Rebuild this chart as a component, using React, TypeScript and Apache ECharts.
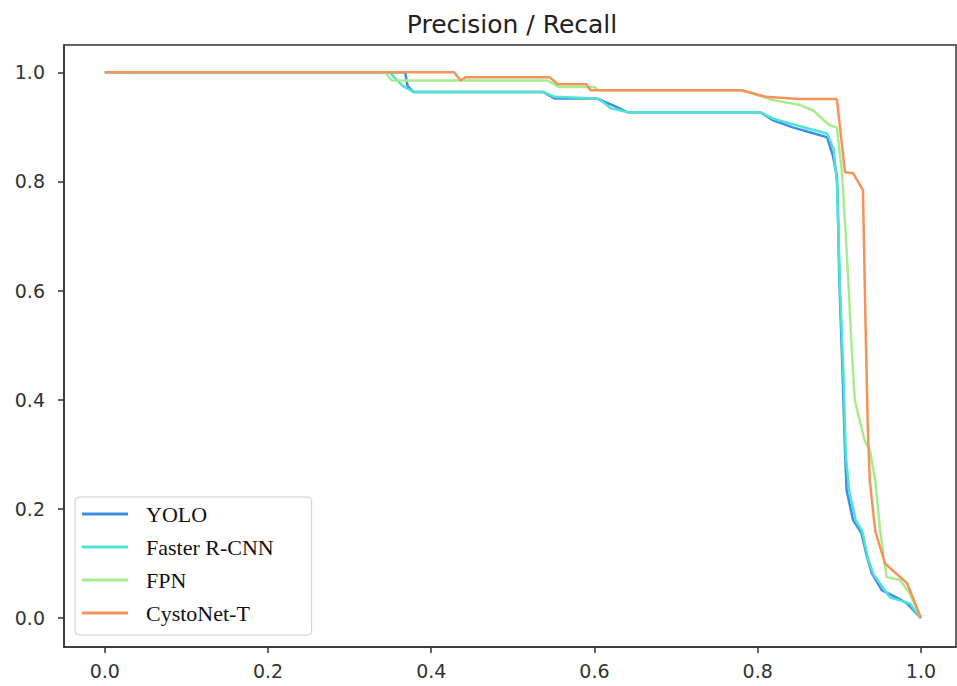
import React, { useEffect, useRef } from "react";
import * as echarts from "echarts";

const seriesNames = ["YOLO", "Faster R-CNN", "FPN", "CystoNet-T"];
const seriesColors = ["#3d8fe6", "#4fe3d3", "#a6ec8e", "#f5935a"];

const yoloPoints: number[][] = [
  [0, 1], [0.368, 1], [0.371, 0.975], [0.378, 0.964], [0.537, 0.964], [0.551, 0.952],
  [0.603, 0.952], [0.612, 0.946], [0.625, 0.938], [0.64, 0.927], [0.803, 0.927],
  [0.819, 0.912], [0.843, 0.899], [0.864, 0.89], [0.885, 0.881], [0.892, 0.848],
  [0.897, 0.811], [0.898, 0.771], [0.9, 0.62], [0.904, 0.45], [0.907, 0.307],
  [0.909, 0.234], [0.917, 0.179], [0.927, 0.156], [0.934, 0.112], [0.94, 0.082],
  [0.952, 0.051], [0.971, 0.037], [0.983, 0.027], [1.0, 0.0],
];

const fasterRcnnPoints: number[][] = [
  [0, 1], [0.349, 1], [0.365, 0.975], [0.378, 0.964], [0.537, 0.964], [0.551, 0.955],
  [0.603, 0.952], [0.61, 0.946], [0.62, 0.934], [0.64, 0.927], [0.803, 0.927],
  [0.819, 0.915], [0.843, 0.905], [0.864, 0.896], [0.885, 0.888], [0.893, 0.86],
  [0.897, 0.8], [0.899, 0.7], [0.901, 0.6], [0.905, 0.45], [0.908, 0.3],
  [0.912, 0.234], [0.92, 0.18], [0.928, 0.16], [0.935, 0.11], [0.942, 0.08],
  [0.962, 0.038], [0.986, 0.027], [1.0, 0.0],
];

const fpnPoints: number[][] = [
  [0, 1], [0.343, 1], [0.352, 0.985], [0.542, 0.985], [0.557, 0.973], [0.6, 0.973],
  [0.605, 0.967], [0.782, 0.967], [0.819, 0.949], [0.852, 0.94], [0.868, 0.93],
  [0.888, 0.903], [0.897, 0.899], [0.903, 0.82], [0.908, 0.7], [0.911, 0.62],
  [0.915, 0.5], [0.919, 0.399], [0.931, 0.326], [0.9375, 0.307], [0.944, 0.253],
  [0.95, 0.161], [0.958, 0.075], [0.974, 0.07], [0.986, 0.046], [1.0, 0.0],
];

const cystoNetPoints: number[][] = [
  [0, 1], [0.428, 1], [0.436, 0.985], [0.442, 0.991], [0.545, 0.991], [0.555, 0.978],
  [0.59, 0.978], [0.595, 0.967], [0.78, 0.967], [0.81, 0.955], [0.85, 0.951],
  [0.897, 0.951], [0.907, 0.817], [0.917, 0.815], [0.929, 0.784], [0.932, 0.55],
  [0.935, 0.344], [0.9375, 0.25], [0.944, 0.16], [0.956, 0.1], [0.983, 0.064],
  [0.99, 0.038], [1.0, 0.0],
];

const xTicks = [0, 0.2, 0.4, 0.6, 0.8, 1.0];
const yTicks = [0, 0.2, 0.4, 0.6, 0.8, 1.0];
const titleText = "Precision / Recall";

export default function App() {
  const ref = useRef<HTMLDivElement>(null);
  useEffect(() => {
    if (!ref.current) return;
    const chart = echarts.init(ref.current, undefined, { renderer: "svg" });
    const allData = [yoloPoints, fasterRcnnPoints, fpnPoints, cystoNetPoints];
    const tickFont = { fontFamily: "DejaVu Sans", fontSize: 19, color: "#333" };
    const axisCommon = {
      type: "value" as const,
      splitLine: { show: false },
      axisLine: { show: true, onZero: false, lineStyle: { color: "#333", width: 1.5 } },
      axisTick: { show: true, length: 6, inside: false, lineStyle: { color: "#333", width: 1.5 } },
    };
    chart.setOption({
      animation: false,
      backgroundColor: "#ffffff",
      graphic: [
        {
          type: "text",
          x: 512,
          y: 24,
          style: {
            text: titleText,
            font: '25px "DejaVu Sans"',
            fill: "#222",
            textAlign: "center",
            textVerticalAlign: "middle",
          },
        },
      ],
      grid: {
        left: 64,
        top: 45,
        right: 1,
        bottom: 39,
        containLabel: false,
        show: true,
        borderColor: "#333",
        borderWidth: 1.5,
        backgroundColor: "transparent",
      },
      xAxis: {
        ...axisCommon,
        min: -0.05,
        max: 1.043,
        axisTick: { ...axisCommon.axisTick, customValues: xTicks },
        axisLabel: {
          ...tickFont,
          margin: 14,
          customValues: xTicks,
          formatter: (v: number) => v.toFixed(1),
        },
      },
      yAxis: {
        ...axisCommon,
        min: -0.053,
        max: 1.05,
        axisTick: { ...axisCommon.axisTick, customValues: yTicks },
        axisLabel: {
          ...tickFont,
          margin: 19,
          customValues: yTicks,
          formatter: (v: number) => v.toFixed(1),
        },
      },
      legend: {
        orient: "vertical",
        left: 75,
        top: 497,
        data: seriesNames,
        icon: "rect",
        itemWidth: 46,
        itemHeight: 3,
        itemGap: 11,
        padding: [6, 38, 11, 7],
        backgroundColor: "rgba(255,255,255,0.8)",
        borderColor: "#cccccc",
        borderWidth: 1,
        borderRadius: 4,
        textStyle: {
          fontFamily: "Liberation Serif",
          fontSize: 22,
          lineHeight: 22,
          color: "#111",
          padding: [0, 0, 0, 13],
        },
      },
      series: seriesNames.map((name, i) => ({
        name,
        type: "line",
        data: allData[i],
        showSymbol: false,
        symbol: "none",
        color: seriesColors[i],
        lineStyle: { width: 2.5, color: seriesColors[i] },
        z: 2 + i,
      })),
    });
    return () => chart.dispose();
  }, []);
  return (
    <div
      ref={ref}
      style={{ position: "absolute", left: 0, top: 0, width: 957, height: 686 }}
    />
  );
}
